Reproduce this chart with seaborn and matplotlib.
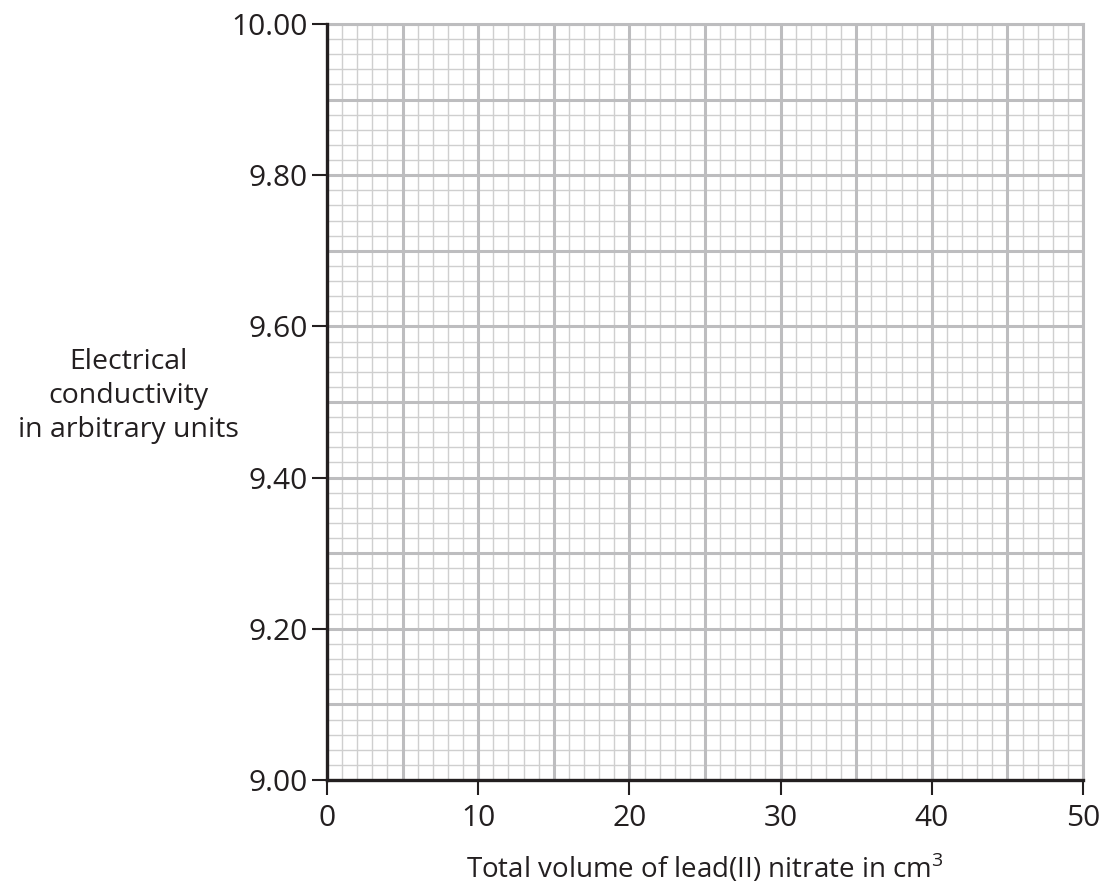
import numpy as np
import pandas as pd
import seaborn as sns
import matplotlib.pyplot as plt
from matplotlib.ticker import MultipleLocator, FormatStrFormatter

# Axis ranges and tick values (blank graph paper)
x_ticks = [0, 10, 20, 30, 40, 50]
y_ticks = [9.00, 9.20, 9.40, 9.60, 9.80, 10.00]
x_label = 'Total volume of lead(II) nitrate in cm$^3$'
y_label = 'Electrical\nconductivity\nin arbitrary units'

sns.set_theme(style='white')
plt.rcParams['font.family'] = ['Open Sans', 'DejaVu Sans']
plt.rcParams['mathtext.fontset'] = 'custom'
plt.rcParams['mathtext.rm'] = 'Open Sans'

fig = plt.figure(figsize=(11.03, 8.88), dpi=100)
ax = fig.add_axes([327 / 1103, 108 / 888, 756 / 1103, 756 / 888])

# empty frame so seaborn sets up the axes
df = pd.DataFrame({'x': pd.Series(dtype=float), 'y': pd.Series(dtype=float)})
sns.lineplot(data=df, x='x', y='y', ax=ax)

ax.set_xlim(x_ticks[0], x_ticks[-1])
ax.set_ylim(y_ticks[0], y_ticks[-1])
ax.set_xticks(x_ticks)
ax.set_yticks(y_ticks)
ax.yaxis.set_major_formatter(FormatStrFormatter('%.2f'))

# graph paper: thin lines every 1 / 0.02, heavier every 5 / 0.1
ax.xaxis.set_minor_locator(MultipleLocator(1))
ax.yaxis.set_minor_locator(MultipleLocator(0.02))
ax.grid(which='minor', color='#cfcfcf', linewidth=1.0)
for v in np.arange(0, 51, 5):
    ax.axvline(v, color='#bdbdbf', linewidth=2.2, zorder=1)
for v in np.arange(9.0, 10.01, 0.1):
    ax.axhline(v, color='#bdbdbf', linewidth=2.2, zorder=1)
ax.set_axisbelow(True)

for s in ['top', 'right']:
    ax.spines[s].set_color('#bdbdbf')
    ax.spines[s].set_linewidth(2.2)
for s in ['left', 'bottom']:
    ax.spines[s].set_color('#231f20')
    ax.spines[s].set_linewidth(2.4)
    ax.spines[s].set_zorder(5)

ax.tick_params(which='major', direction='out', length=11, width=1.5,
               color='#231f20', labelsize=21.5, labelcolor='#231f20',
               bottom=True, left=True)
ax.tick_params(axis='y', pad=3)
ax.tick_params(axis='x', pad=6)
ax.tick_params(which='minor', length=0)

ax.set_xlabel(x_label, fontsize=20, color='#231f20', labelpad=14)
ax.set_ylabel('')
fig.text(128 / 1103, 1 - 396 / 888, y_label, fontsize=20.5, color='#231f20',
         ha='center', va='center', multialignment='center', linespacing=1.3)

fig.savefig('out.png', dpi=100)
